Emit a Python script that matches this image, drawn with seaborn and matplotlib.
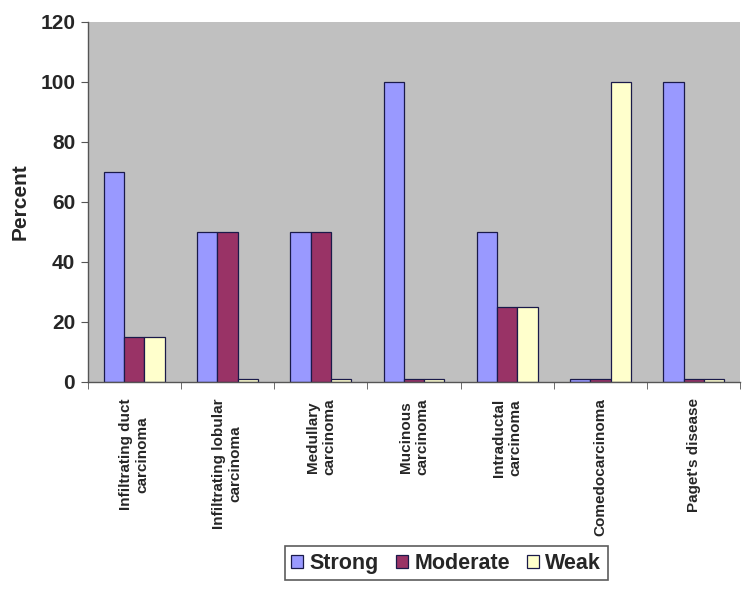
import pandas as pd
import numpy as np
import matplotlib
matplotlib.use("Agg")
import matplotlib.pyplot as plt
import seaborn as sns

# data
categories = ["Infiltrating duct\ncarcinoma", "Infiltrating lobular\ncarcinoma",
              "Medullary\ncarcinoma", "Mucinous\ncarcinoma", "Intraductal\ncarcinoma",
              "Comedocarcinoma", "Paget's disease"]
strong = [70, 50, 50, 100, 50, 1, 100]
moderate = [15, 50, 50, 1, 25, 1, 1]
weak = [15, 1, 1, 1, 25, 100, 1]
series = ["Strong", "Moderate", "Weak"]
colors = ["#9999FF", "#993366", "#FFFFCC"]
y_ticks = [0, 20, 40, 60, 80, 100, 120]

df = pd.DataFrame({
    "category": categories * 3,
    "series": ["Strong"] * 7 + ["Moderate"] * 7 + ["Weak"] * 7,
    "value": strong + moderate + weak,
})

sns.set_style("white", {"xtick.bottom": True, "ytick.left": True})
plt.rcParams["font.family"] = ["Liberation Sans", "DejaVu Sans"]

fig = plt.figure(figsize=(7.5, 5.91), dpi=100)
ax = fig.add_axes([0.117, 0.354, 0.870, 0.609])

sns.barplot(data=df, x="category", y="value", hue="series", hue_order=series,
            palette=colors, saturation=1, width=0.65, edgecolor="#1a1a4a",
            linewidth=0.9, ax=ax, legend=True)

ax.set_facecolor("#C0C0C0")
ax.set_ylim(0, 120)
ax.set_xlim(-0.5, len(categories) - 0.5)
ax.set_yticks(y_ticks)
ax.set_yticklabels([str(t) for t in y_ticks], fontsize=15, fontweight="bold")
ax.set_xticks(range(len(categories)))
ax.set_xticklabels(categories, rotation=90, fontsize=11, fontweight="bold",
                   ha="center", va="top", multialignment="center")
ax.tick_params(axis="x", which="major", length=0, pad=12)
ax.set_xticks(np.arange(-0.5, len(categories), 1), minor=True)
ax.tick_params(axis="x", which="minor", bottom=True, length=5, direction="out",
               color="#555555")
ax.tick_params(axis="y", length=5, direction="out", color="#555555", pad=4)
ax.set_xlabel("")
ax.set_ylabel("Percent", fontsize=15, fontweight="bold", labelpad=8)

for side in ["top", "right"]:
    ax.spines[side].set_visible(False)
for side in ["left", "bottom"]:
    ax.spines[side].set_color("#555555")
    ax.spines[side].set_linewidth(1.0)

handles, labels = ax.get_legend_handles_labels()
ax.get_legend().remove()
leg = fig.legend(handles, labels, loc="center", bbox_to_anchor=(0.595, 0.047),
                 ncol=3, frameon=True, fancybox=False, edgecolor="#333333",
                 prop={"weight": "bold", "size": 15.5}, handlelength=0.55,
                 handleheight=0.55, handletextpad=0.3, columnspacing=0.8,
                 borderpad=0.3)
leg.get_frame().set_linewidth(1.2)

fig.savefig("out.png", dpi=100)
